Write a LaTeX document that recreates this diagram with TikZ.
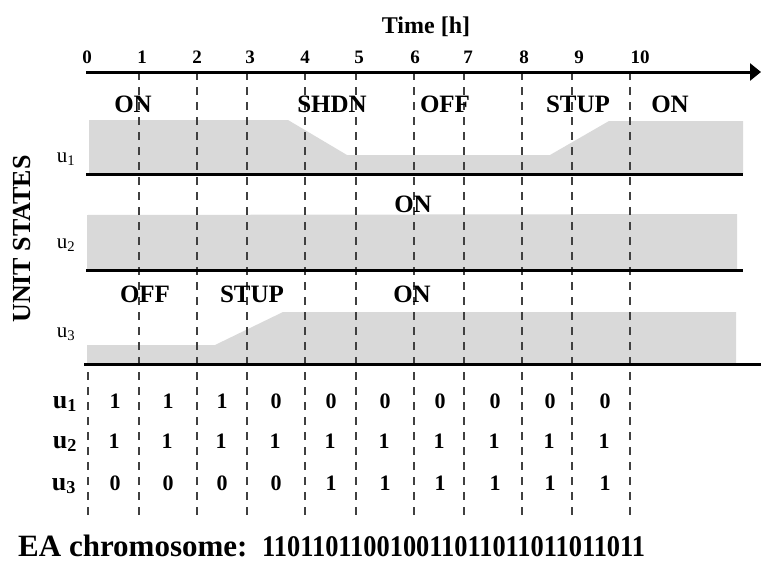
\documentclass[tikz,border=0pt]{standalone}
\usepackage{fontspec}
\setmainfont{Liberation Serif}
\usepackage{graphicx}
\usetikzlibrary{arrows.meta}
\newcommand\fsz[1]{\fontsize{#1}{#1}\selectfont}
\begin{document}
\begin{tikzpicture}[x=1pt,y=-1pt,
  thickline/.style={line width=3pt},
  gridline/.style={line width=1.3pt, black!75, dash pattern=on 8pt off 7pt},
  area/.style={fill=black!15, draw=none},
  ticklbl/.style={font=\fsz{19}\bfseries, inner sep=0pt, anchor=base},
  statelbl/.style={font=\fsz{25}\bfseries, inner sep=0pt, anchor=base},
  rowlbl/.style={font=\fsz{21}, inner sep=0pt, anchor=base},
  tablbl/.style={font=\fsz{26}\bfseries, inner sep=0pt, anchor=base},
  bitlbl/.style={font=\fsz{22}\bfseries, inner sep=0pt, anchor=base}]
\useasboundingbox (0,0) rectangle (761,562);

% grey state areas
\path[area] (89,174) -- (89,120) -- (288,120) -- (347,155) -- (550,155) -- (609,121) -- (743,121) -- (743,174) -- cycle;
\path[area] (87,270) -- (87,215) -- (737,214) -- (737,270) -- cycle;
\path[area] (87,364) -- (87,345) -- (215,345) -- (283,312) -- (736,312) -- (736,364) -- cycle;

% dashed time grid
\foreach \x [count=\i] in {139,197,247,305,356,414,464,522,572,630}{
  \coordinate (gt\i) at (\x,72);
  \coordinate (gb\i) at (\x,518);
  \draw[gridline] (gt\i) -- (gb\i);
}
\coordinate (g0t) at (88,372);
\coordinate (g0b) at (88,518);
\draw[gridline] (g0t) -- (g0b);

% axis and baselines
\coordinate (axs) at (86,72);
\coordinate (axe) at (761,72);
\draw[thickline,-{Triangle[length=11pt,width=17pt]}] (axs) -- (axe);
\coordinate (b1s) at (86,174); \coordinate (b1e) at (743,174);
\coordinate (b2s) at (86,270); \coordinate (b2e) at (743,270);
\coordinate (b3s) at (84,364); \coordinate (b3e) at (761,364);
\draw[thickline] (b1s) -- (b1e);
\draw[thickline] (b2s) -- (b2e);
\draw[thickline] (b3s) -- (b3e);

% axis title and ticks
\node[font=\fsz{24}\bfseries, inner sep=0pt, anchor=base] (title) at (426,33) {Time [h]};
\foreach \x/\t [count=\i] in {87/0,142/1,197/2,250/3,305/4,359/5,415/6,468/7,524/8,579/9,640/10}{
  \node[ticklbl] (tk\i) at (\x,63) {\t};
}

% state labels
\node[statelbl] (s1a) at (133,112) {ON};
\node[statelbl] (s1b) at (332,112) {SHDN};
\node[statelbl] (s1c) at (445,112) {OFF};
\node[statelbl] (s1d) at (578,112) {STUP};
\node[statelbl] (s1e) at (670,112) {ON};
\node[statelbl] (s2a) at (413,212) {ON};
\node[statelbl] (s3a) at (145,302) {OFF};
\node[statelbl] (s3b) at (252,302) {STUP};
\node[statelbl] (s3c) at (412,302) {ON};

% row labels
\node[rowlbl] (r1) at (66,162) {u\textsubscript{1}};
\node[rowlbl] (r2) at (66,248) {u\textsubscript{2}};
\node[rowlbl] (r3) at (66,337) {u\textsubscript{3}};
\node[font=\fsz{26}\bfseries, inner sep=0pt, rotate=90] (ust) at (22,239) {UNIT STATES};

% table
\node[tablbl] (t1) at (65,408) {u\textsubscript{1}};
\node[tablbl] (t2) at (65,448) {u\textsubscript{2}};
\node[tablbl] (t3) at (64,490) {u\textsubscript{3}};
\foreach \x/\a/\b/\c [count=\i] in {115/1/1/0,168/1/1/0,222/1/1/0,276/0/1/0,331/0/1/1,385/0/1/1,440/0/1/1,495/0/1/1,550/0/1/1,605/0/1/1}{
  \node[bitlbl] (ba\i) at (\x,408) {\a};
  \node[bitlbl] (bb\i) at (\x-1,448) {\b};
  \node[bitlbl] (bc\i) at (\x,490) {\c};
}

% chromosome
\node[font=\fsz{31}\bfseries, inner sep=0pt, anchor=base west] (ea) at (18,556) {EA chromosome:};
\node[font=\fsz{30}\bfseries, inner sep=0pt, anchor=base west] (chrom) at (262,556) {\scalebox{0.88}[1]{110110110010011011011011011011}};
\end{tikzpicture}
\end{document}
